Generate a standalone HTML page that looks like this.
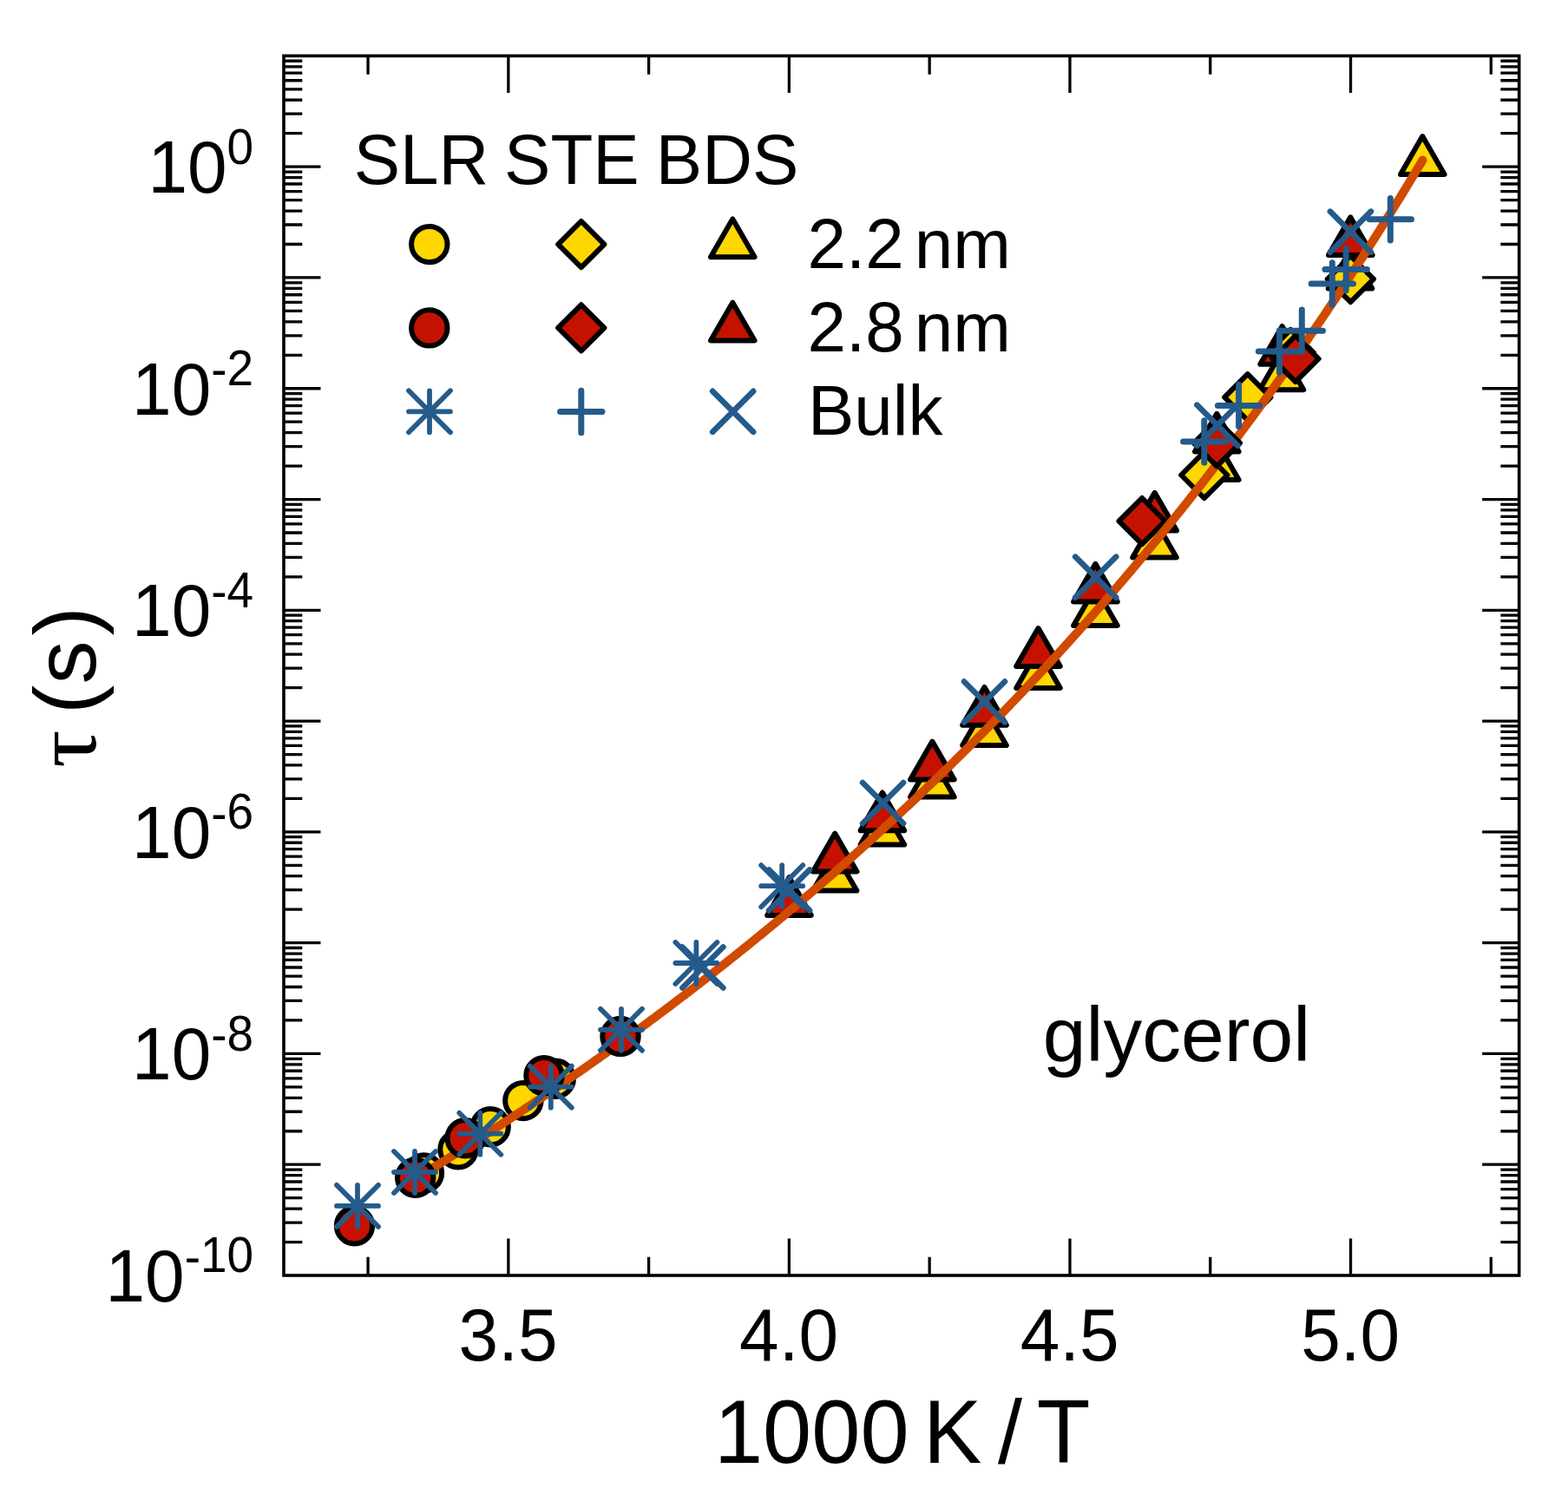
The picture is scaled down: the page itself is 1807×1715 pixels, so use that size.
<!DOCTYPE html>
<html><head><meta charset="utf-8"><title>glycerol relaxation times</title>
<style>
html,body{margin:0;padding:0;background:#fff;overflow:hidden;}
svg{display:block;}
text{font-family:"Liberation Sans",Arial,sans-serif;fill:#000;}
</style></head><body>
<svg width="1807" height="1715" viewBox="0 0 1807 1715">
<rect width="1807" height="1715" fill="#fff"/>
<path d="M327.0 1431.53h21.3M1750.65 1431.53h-21.3M327.0 1409.03h21.3M1750.65 1409.03h-21.3M327.0 1393.07h21.3M1750.65 1393.07h-21.3M327.0 1380.68h21.3M1750.65 1380.68h-21.3M327.0 1370.57h21.3M1750.65 1370.57h-21.3M327.0 1362.01h21.3M1750.65 1362.01h-21.3M327.0 1354.60h21.3M1750.65 1354.60h-21.3M327.0 1348.07h21.3M1750.65 1348.07h-21.3M327.0 1342.22h42.5M1750.65 1342.22h-42.5M327.0 1303.75h21.3M1750.65 1303.75h-21.3M327.0 1281.25h21.3M1750.65 1281.25h-21.3M327.0 1265.29h21.3M1750.65 1265.29h-21.3M327.0 1252.90h21.3M1750.65 1252.90h-21.3M327.0 1242.78h21.3M1750.65 1242.78h-21.3M327.0 1234.23h21.3M1750.65 1234.23h-21.3M327.0 1226.82h21.3M1750.65 1226.82h-21.3M327.0 1220.28h21.3M1750.65 1220.28h-21.3M327.0 1214.44h42.5M1750.65 1214.44h-42.5M327.0 1175.97h21.3M1750.65 1175.97h-21.3M327.0 1153.47h21.3M1750.65 1153.47h-21.3M327.0 1137.50h21.3M1750.65 1137.50h-21.3M327.0 1125.12h21.3M1750.65 1125.12h-21.3M327.0 1115.00h21.3M1750.65 1115.00h-21.3M327.0 1106.45h21.3M1750.65 1106.45h-21.3M327.0 1099.04h21.3M1750.65 1099.04h-21.3M327.0 1092.50h21.3M1750.65 1092.50h-21.3M327.0 1086.65h42.5M1750.65 1086.65h-42.5M327.0 1048.19h21.3M1750.65 1048.19h-21.3M327.0 1025.69h21.3M1750.65 1025.69h-21.3M327.0 1009.72h21.3M1750.65 1009.72h-21.3M327.0 997.34h21.3M1750.65 997.34h-21.3M327.0 987.22h21.3M1750.65 987.22h-21.3M327.0 978.67h21.3M1750.65 978.67h-21.3M327.0 971.26h21.3M1750.65 971.26h-21.3M327.0 964.72h21.3M1750.65 964.72h-21.3M327.0 958.87h42.5M1750.65 958.87h-42.5M327.0 920.41h21.3M1750.65 920.41h-21.3M327.0 897.91h21.3M1750.65 897.91h-21.3M327.0 881.94h21.3M1750.65 881.94h-21.3M327.0 869.56h21.3M1750.65 869.56h-21.3M327.0 859.44h21.3M1750.65 859.44h-21.3M327.0 850.88h21.3M1750.65 850.88h-21.3M327.0 843.47h21.3M1750.65 843.47h-21.3M327.0 836.94h21.3M1750.65 836.94h-21.3M327.0 831.09h42.5M1750.65 831.09h-42.5M327.0 792.62h21.3M1750.65 792.62h-21.3M327.0 770.12h21.3M1750.65 770.12h-21.3M327.0 754.16h21.3M1750.65 754.16h-21.3M327.0 741.78h21.3M1750.65 741.78h-21.3M327.0 731.66h21.3M1750.65 731.66h-21.3M327.0 723.10h21.3M1750.65 723.10h-21.3M327.0 715.69h21.3M1750.65 715.69h-21.3M327.0 709.16h21.3M1750.65 709.16h-21.3M327.0 703.31h42.5M1750.65 703.31h-42.5M327.0 664.84h21.3M1750.65 664.84h-21.3M327.0 642.34h21.3M1750.65 642.34h-21.3M327.0 626.38h21.3M1750.65 626.38h-21.3M327.0 613.99h21.3M1750.65 613.99h-21.3M327.0 603.88h21.3M1750.65 603.88h-21.3M327.0 595.32h21.3M1750.65 595.32h-21.3M327.0 587.91h21.3M1750.65 587.91h-21.3M327.0 581.37h21.3M1750.65 581.37h-21.3M327.0 575.53h42.5M1750.65 575.53h-42.5M327.0 537.06h21.3M1750.65 537.06h-21.3M327.0 514.56h21.3M1750.65 514.56h-21.3M327.0 498.59h21.3M1750.65 498.59h-21.3M327.0 486.21h21.3M1750.65 486.21h-21.3M327.0 476.09h21.3M1750.65 476.09h-21.3M327.0 467.54h21.3M1750.65 467.54h-21.3M327.0 460.13h21.3M1750.65 460.13h-21.3M327.0 453.59h21.3M1750.65 453.59h-21.3M327.0 447.75h42.5M1750.65 447.75h-42.5M327.0 409.28h21.3M1750.65 409.28h-21.3M327.0 386.78h21.3M1750.65 386.78h-21.3M327.0 370.81h21.3M1750.65 370.81h-21.3M327.0 358.43h21.3M1750.65 358.43h-21.3M327.0 348.31h21.3M1750.65 348.31h-21.3M327.0 339.76h21.3M1750.65 339.76h-21.3M327.0 332.35h21.3M1750.65 332.35h-21.3M327.0 325.81h21.3M1750.65 325.81h-21.3M327.0 319.96h42.5M1750.65 319.96h-42.5M327.0 281.50h21.3M1750.65 281.50h-21.3M327.0 259.00h21.3M1750.65 259.00h-21.3M327.0 243.03h21.3M1750.65 243.03h-21.3M327.0 230.65h21.3M1750.65 230.65h-21.3M327.0 220.53h21.3M1750.65 220.53h-21.3M327.0 211.98h21.3M1750.65 211.98h-21.3M327.0 204.57h21.3M1750.65 204.57h-21.3M327.0 198.03h21.3M1750.65 198.03h-21.3M327.0 192.18h42.5M1750.65 192.18h-42.5M327.0 153.72h21.3M1750.65 153.72h-21.3M327.0 131.21h21.3M1750.65 131.21h-21.3M327.0 115.25h21.3M1750.65 115.25h-21.3M327.0 102.87h21.3M1750.65 102.87h-21.3M327.0 92.75h21.3M1750.65 92.75h-21.3M327.0 84.19h21.3M1750.65 84.19h-21.3M327.0 76.78h21.3M1750.65 76.78h-21.3M327.0 70.25h21.3M1750.65 70.25h-21.3M424.07 1470.0v-21.3M424.07 64.4v21.3M585.85 1470.0v-42.5M585.85 64.4v42.5M747.62 1470.0v-21.3M747.62 64.4v21.3M909.40 1470.0v-42.5M909.40 64.4v42.5M1071.18 1470.0v-21.3M1071.18 64.4v21.3M1232.96 1470.0v-42.5M1232.96 64.4v42.5M1394.74 1470.0v-21.3M1394.74 64.4v21.3M1556.52 1470.0v-42.5M1556.52 64.4v42.5M1718.29 1470.0v-21.3M1718.29 64.4v21.3" stroke="#000" stroke-width="3.3" fill="none"/>
<rect x="327.0" y="64.4" width="1423.65" height="1405.6" fill="none" stroke="#000" stroke-width="3.6"/>
<circle cx="488.4" cy="1352.0" r="20.7" fill="#FFD700" stroke="#000" stroke-width="6"/>
<circle cx="528.0" cy="1324.7" r="20.7" fill="#FFD700" stroke="#000" stroke-width="6"/>
<circle cx="565.2" cy="1298.7" r="20.7" fill="#FFD700" stroke="#000" stroke-width="6"/>
<circle cx="602.9" cy="1268.6" r="20.7" fill="#FFD700" stroke="#000" stroke-width="6"/>
<circle cx="640.3" cy="1243.2" r="20.7" fill="#FFD700" stroke="#000" stroke-width="6"/>
<polygon points="962.1,982.8 987.4,1026.6 936.8,1026.6" fill="#FFD700" stroke="#000" stroke-width="6" stroke-linejoin="round"/>
<polygon points="1016.9,929.8 1042.2,973.6 991.6,973.6" fill="#FFD700" stroke="#000" stroke-width="6" stroke-linejoin="round"/>
<polygon points="1074.4,874.6 1099.7,918.4 1049.1,918.4" fill="#FFD700" stroke="#000" stroke-width="6" stroke-linejoin="round"/>
<polygon points="1134.5,815.3 1159.8,859.1 1109.2,859.1" fill="#FFD700" stroke="#000" stroke-width="6" stroke-linejoin="round"/>
<polygon points="1196.5,749.1 1221.8,792.9 1171.2,792.9" fill="#FFD700" stroke="#000" stroke-width="6" stroke-linejoin="round"/>
<polygon points="1262.4,677.2 1287.7,721.0 1237.1,721.0" fill="#FFD700" stroke="#000" stroke-width="6" stroke-linejoin="round"/>
<polygon points="1330.5,598.6 1355.8,642.4 1305.2,642.4" fill="#FFD700" stroke="#000" stroke-width="6" stroke-linejoin="round"/>
<polygon points="1402.3,509.2 1427.6,553.0 1377.0,553.0" fill="#FFD700" stroke="#000" stroke-width="6" stroke-linejoin="round"/>
<polygon points="1477.0,405.4 1502.3,449.2 1451.7,449.2" fill="#FFD700" stroke="#000" stroke-width="6" stroke-linejoin="round"/>
<polygon points="1556.0,288.8 1581.3,332.6 1530.7,332.6" fill="#FFD700" stroke="#000" stroke-width="6" stroke-linejoin="round"/>
<polygon points="1639.3,157.1 1664.6,200.9 1614.0,200.9" fill="#FFD700" stroke="#000" stroke-width="6" stroke-linejoin="round"/>
<polygon points="909.5,1011.2 934.8,1055.0 884.2,1055.0" fill="#C51200" stroke="#000" stroke-width="6" stroke-linejoin="round"/>
<polygon points="962.2,960.6 987.5,1004.4 936.9,1004.4" fill="#C51200" stroke="#000" stroke-width="6" stroke-linejoin="round"/>
<polygon points="1016.9,913.5 1042.2,957.3 991.6,957.3" fill="#C51200" stroke="#000" stroke-width="6" stroke-linejoin="round"/>
<polygon points="1074.4,854.6 1099.7,898.4 1049.1,898.4" fill="#C51200" stroke="#000" stroke-width="6" stroke-linejoin="round"/>
<polygon points="1134.5,792.0 1159.8,835.8 1109.2,835.8" fill="#C51200" stroke="#000" stroke-width="6" stroke-linejoin="round"/>
<polygon points="1196.5,724.1 1221.8,767.9 1171.2,767.9" fill="#C51200" stroke="#000" stroke-width="6" stroke-linejoin="round"/>
<polygon points="1262.4,649.8 1287.7,693.6 1237.1,693.6" fill="#C51200" stroke="#000" stroke-width="6" stroke-linejoin="round"/>
<polygon points="1330.7,567.8 1356.0,611.6 1305.4,611.6" fill="#C51200" stroke="#000" stroke-width="6" stroke-linejoin="round"/>
<polygon points="1402.3,476.8 1427.6,520.6 1377.0,520.6" fill="#C51200" stroke="#000" stroke-width="6" stroke-linejoin="round"/>
<polygon points="1477.6,376.0 1502.9,419.8 1452.3,419.8" fill="#C51200" stroke="#000" stroke-width="6" stroke-linejoin="round"/>
<polygon points="1556.3,250.3 1581.6,294.1 1531.0,294.1" fill="#C51200" stroke="#000" stroke-width="6" stroke-linejoin="round"/>
<polygon points="1387.8,520.9 1414.4,547.5 1387.8,574.1 1361.2,547.5" fill="#FFD700" stroke="#000" stroke-width="6" stroke-linejoin="round"/>
<polygon points="1437.8,431.2 1464.4,457.8 1437.8,484.4 1411.2,457.8" fill="#FFD700" stroke="#000" stroke-width="6" stroke-linejoin="round"/>
<polygon points="1487.4,379.9 1514.0,406.5 1487.4,433.1 1460.8,406.5" fill="#FFD700" stroke="#000" stroke-width="6" stroke-linejoin="round"/>
<polygon points="1556.4,295.0 1583.0,321.6 1556.4,348.2 1529.8,321.6" fill="#FFD700" stroke="#000" stroke-width="6" stroke-linejoin="round"/>
<polygon points="1316.1,574.0 1342.7,600.6 1316.1,627.2 1289.5,600.6" fill="#C51200" stroke="#000" stroke-width="6" stroke-linejoin="round"/>
<path d="M477.99 1358.97 L480.90 1357.19 L483.80 1355.42 L486.70 1353.64 L489.61 1351.85 L492.51 1350.07 L495.42 1348.27 L498.32 1346.48 L501.22 1344.68 L504.13 1342.88 L507.03 1341.08 L509.93 1339.27 L512.84 1337.45 L515.74 1335.64 L518.65 1333.82 L521.55 1331.99 L524.45 1330.17 L527.36 1328.34 L530.26 1326.50 L533.16 1324.66 L536.07 1322.82 L538.97 1320.97 L541.87 1319.13 L544.78 1317.27 L547.68 1315.41 L550.59 1313.55 L553.49 1311.69 L556.39 1309.82 L559.30 1307.95 L562.20 1306.07 L565.10 1304.19 L568.01 1302.31 L570.91 1300.42 L573.82 1298.53 L576.72 1296.63 L579.62 1294.74 L582.53 1292.83 L585.43 1290.93 L588.33 1289.01 L591.24 1287.10 L594.14 1285.18 L597.05 1283.26 L599.95 1281.33 L602.85 1279.40 L605.76 1277.47 L608.66 1275.53 L611.56 1273.58 L614.47 1271.64 L617.37 1269.69 L620.28 1267.73 L623.18 1265.77 L626.08 1263.81 L628.99 1261.84 L631.89 1259.87 L634.79 1257.89 L637.70 1255.91 L640.60 1253.93 L643.50 1251.94 L646.41 1249.95 L649.31 1247.95 L652.22 1245.95 L655.12 1243.95 L658.02 1241.94 L660.93 1239.93 L663.83 1237.91 L666.73 1235.89 L669.64 1233.86 L672.54 1231.83 L675.45 1229.80 L678.35 1227.76 L681.25 1225.71 L684.16 1223.67 L687.06 1221.61 L689.96 1219.56 L692.87 1217.50 L695.77 1215.43 L698.68 1213.36 L701.58 1211.29 L704.48 1209.21 L707.39 1207.12 L710.29 1205.04 L713.19 1202.94 L716.10 1200.85 L719.00 1198.75 L721.91 1196.64 L724.81 1194.53 L727.71 1192.42 L730.62 1190.30 L733.52 1188.17 L736.42 1186.04 L739.33 1183.91 L742.23 1181.77 L745.13 1179.63 L748.04 1177.48 L750.94 1175.33 L753.85 1173.17 L756.75 1171.01 L759.65 1168.85 L762.56 1166.67 L765.46 1164.50 L768.36 1162.32 L771.27 1160.13 L774.17 1157.94 L777.08 1155.75 L779.98 1153.55 L782.88 1151.34 L785.79 1149.13 L788.69 1146.92 L791.59 1144.70 L794.50 1142.48 L797.40 1140.25 L800.31 1138.01 L803.21 1135.77 L806.11 1133.53 L809.02 1131.28 L811.92 1129.02 L814.82 1126.77 L817.73 1124.50 L820.63 1122.23 L823.54 1119.96 L826.44 1117.68 L829.34 1115.39 L832.25 1113.10 L835.15 1110.81 L838.05 1108.51 L840.96 1106.20 L843.86 1103.89 L846.76 1101.57 L849.67 1099.25 L852.57 1096.93 L855.48 1094.59 L858.38 1092.26 L861.28 1089.91 L864.19 1087.57 L867.09 1085.21 L869.99 1082.85 L872.90 1080.49 L875.80 1078.12 L878.71 1075.75 L881.61 1073.37 L884.51 1070.98 L887.42 1068.59 L890.32 1066.19 L893.22 1063.79 L896.13 1061.38 L899.03 1058.97 L901.94 1056.55 L904.84 1054.12 L907.74 1051.69 L910.65 1049.26 L913.55 1046.82 L916.45 1044.37 L919.36 1041.91 L922.26 1039.46 L925.17 1036.99 L928.07 1034.52 L930.97 1032.04 L933.88 1029.56 L936.78 1027.07 L939.68 1024.58 L942.59 1022.08 L945.49 1019.58 L948.40 1017.06 L951.30 1014.55 L954.20 1012.02 L957.11 1009.49 L960.01 1006.96 L962.91 1004.42 L965.82 1001.87 L968.72 999.32 L971.62 996.76 L974.53 994.19 L977.43 991.62 L980.34 989.04 L983.24 986.46 L986.14 983.87 L989.05 981.27 L991.95 978.67 L994.85 976.06 L997.76 973.44 L1000.66 970.82 L1003.57 968.19 L1006.47 965.56 L1009.37 962.92 L1012.28 960.27 L1015.18 957.62 L1018.08 954.96 L1020.99 952.29 L1023.89 949.62 L1026.80 946.94 L1029.70 944.25 L1032.60 941.56 L1035.51 938.86 L1038.41 936.16 L1041.31 933.44 L1044.22 930.72 L1047.12 928.00 L1050.03 925.27 L1052.93 922.53 L1055.83 919.78 L1058.74 917.03 L1061.64 914.27 L1064.54 911.50 L1067.45 908.73 L1070.35 905.95 L1073.25 903.16 L1076.16 900.37 L1079.06 897.56 L1081.97 894.76 L1084.87 891.94 L1087.77 889.12 L1090.68 886.29 L1093.58 883.45 L1096.48 880.61 L1099.39 877.76 L1102.29 874.90 L1105.20 872.04 L1108.10 869.16 L1111.00 866.28 L1113.91 863.40 L1116.81 860.50 L1119.71 857.60 L1122.62 854.69 L1125.52 851.78 L1128.43 848.85 L1131.33 845.92 L1134.23 842.98 L1137.14 840.04 L1140.04 837.08 L1142.94 834.12 L1145.85 831.15 L1148.75 828.18 L1151.66 825.19 L1154.56 822.20 L1157.46 819.20 L1160.37 816.19 L1163.27 813.18 L1166.17 810.15 L1169.08 807.12 L1171.98 804.08 L1174.88 801.04 L1177.79 797.98 L1180.69 794.92 L1183.60 791.85 L1186.50 788.77 L1189.40 785.68 L1192.31 782.59 L1195.21 779.49 L1198.11 776.38 L1201.02 773.26 L1203.92 770.13 L1206.83 766.99 L1209.73 763.85 L1212.63 760.70 L1215.54 757.54 L1218.44 754.37 L1221.34 751.19 L1224.25 748.00 L1227.15 744.81 L1230.06 741.61 L1232.96 738.39 L1235.86 735.17 L1238.77 731.95 L1241.67 728.71 L1244.57 725.46 L1247.48 722.21 L1250.38 718.94 L1253.29 715.67 L1256.19 712.39 L1259.09 709.10 L1262.00 705.80 L1264.90 702.49 L1267.80 699.18 L1270.71 695.85 L1273.61 692.51 L1276.51 689.17 L1279.42 685.82 L1282.32 682.45 L1285.23 679.08 L1288.13 675.70 L1291.03 672.31 L1293.94 668.91 L1296.84 665.50 L1299.74 662.09 L1302.65 658.66 L1305.55 655.22 L1308.46 651.77 L1311.36 648.32 L1314.26 644.85 L1317.17 641.38 L1320.07 637.89 L1322.97 634.40 L1325.88 630.89 L1328.78 627.38 L1331.69 623.85 L1334.59 620.32 L1337.49 616.78 L1340.40 613.22 L1343.30 609.66 L1346.20 606.08 L1349.11 602.50 L1352.01 598.90 L1354.92 595.30 L1357.82 591.69 L1360.72 588.06 L1363.63 584.43 L1366.53 580.78 L1369.43 577.12 L1372.34 573.46 L1375.24 569.78 L1378.14 566.09 L1381.05 562.40 L1383.95 558.69 L1386.86 554.97 L1389.76 551.24 L1392.66 547.50 L1395.57 543.75 L1398.47 539.98 L1401.37 536.21 L1404.28 532.43 L1407.18 528.63 L1410.09 524.82 L1412.99 521.01 L1415.89 517.18 L1418.80 513.34 L1421.70 509.49 L1424.60 505.63 L1427.51 501.75 L1430.41 497.87 L1433.32 493.97 L1436.22 490.06 L1439.12 486.14 L1442.03 482.21 L1444.93 478.27 L1447.83 474.32 L1450.74 470.35 L1453.64 466.37 L1456.55 462.38 L1459.45 458.38 L1462.35 454.37 L1465.26 450.34 L1468.16 446.30 L1471.06 442.26 L1473.97 438.19 L1476.87 434.12 L1479.77 430.03 L1482.68 425.93 L1485.58 421.82 L1488.49 417.70 L1491.39 413.56 L1494.29 409.41 L1497.20 405.25 L1500.10 401.08 L1503.00 396.89 L1505.91 392.69 L1508.81 388.48 L1511.72 384.26 L1514.62 380.02 L1517.52 375.77 L1520.43 371.50 L1523.33 367.23 L1526.23 362.93 L1529.14 358.63 L1532.04 354.31 L1534.95 349.98 L1537.85 345.64 L1540.75 341.28 L1543.66 336.91 L1546.56 332.53 L1549.46 328.13 L1552.37 323.71 L1555.27 319.29 L1558.18 314.85 L1561.08 310.39 L1563.98 305.93 L1566.89 301.44 L1569.79 296.95 L1572.69 292.44 L1575.60 287.91 L1578.50 283.37 L1581.40 278.82 L1584.31 274.25 L1587.21 269.67 L1590.12 265.07 L1593.02 260.46 L1595.92 255.83 L1598.83 251.19 L1601.73 246.53 L1604.63 241.86 L1607.54 237.17 L1610.44 232.47 L1613.35 227.76 L1616.25 223.02 L1619.15 218.27 L1622.06 213.51 L1624.96 208.73 L1627.86 203.94 L1630.77 199.13 L1633.67 194.30 L1636.58 189.46 L1639.48 184.60" fill="none" stroke="#D04A00" stroke-width="10" stroke-linecap="round" stroke-linejoin="round"/>
<circle cx="408.5" cy="1412.8" r="20.7" fill="#C51200" stroke="#000" stroke-width="6"/>
<circle cx="478.7" cy="1357.2" r="20.7" fill="#C51200" stroke="#000" stroke-width="6"/>
<circle cx="536.2" cy="1311.8" r="20.7" fill="#C51200" stroke="#000" stroke-width="6"/>
<circle cx="627.0" cy="1239.7" r="20.7" fill="#C51200" stroke="#000" stroke-width="6"/>
<circle cx="715.0" cy="1194.4" r="20.7" fill="#C51200" stroke="#000" stroke-width="6"/>
<polygon points="1402.4,484.1 1429.0,510.7 1402.4,537.3 1375.8,510.7" fill="#C51200" stroke="#000" stroke-width="6" stroke-linejoin="round"/>
<polygon points="1493.0,386.9 1519.6,413.5 1493.0,440.1 1466.4,413.5" fill="#C51200" stroke="#000" stroke-width="6" stroke-linejoin="round"/>
<path d="M388.0 1389.9H436.0M412.0 1365.9V1413.9M388.0 1365.9L436.0 1413.9M388.0 1413.9L436.0 1365.9" fill="none" stroke="#245B8B" stroke-width="5.8" stroke-linecap="round"/>
<path d="M454.0 1351.0H502.0M478.0 1327.0V1375.0M454.0 1327.0L502.0 1375.0M454.0 1375.0L502.0 1327.0" fill="none" stroke="#245B8B" stroke-width="5.8" stroke-linecap="round"/>
<path d="M529.3 1306.7H577.3M553.3 1282.7V1330.7M529.3 1282.7L577.3 1330.7M529.3 1330.7L577.3 1282.7" fill="none" stroke="#245B8B" stroke-width="5.8" stroke-linecap="round"/>
<path d="M610.8 1252.7H658.8M634.8 1228.7V1276.7M610.8 1228.7L658.8 1276.7M610.8 1276.7L658.8 1228.7" fill="none" stroke="#245B8B" stroke-width="5.8" stroke-linecap="round"/>
<path d="M692.0 1186.8H740.0M716.0 1162.8V1210.8M692.0 1162.8L740.0 1210.8M692.0 1210.8L740.0 1162.8" fill="none" stroke="#245B8B" stroke-width="5.8" stroke-linecap="round"/>
<path d="M778.4 1110.0H826.4M802.4 1086.0V1134.0M778.4 1086.0L826.4 1134.0M778.4 1134.0L826.4 1086.0" fill="none" stroke="#245B8B" stroke-width="5.8" stroke-linecap="round"/>
<path d="M877.2 1021.2H925.2M901.2 997.2V1045.2M877.2 997.2L925.2 1045.2M877.2 1045.2L925.2 997.2" fill="none" stroke="#245B8B" stroke-width="5.8" stroke-linecap="round"/>
<path d="M1363.6 509.0H1412.0M1387.8 484.8V533.2" fill="none" stroke="#245B8B" stroke-width="7" stroke-linecap="round"/>
<path d="M1403.4 467.4H1451.8M1427.6 443.2V491.6" fill="none" stroke="#245B8B" stroke-width="7" stroke-linecap="round"/>
<path d="M1450.3 405.0H1498.7M1474.5 380.8V429.2" fill="none" stroke="#245B8B" stroke-width="7" stroke-linecap="round"/>
<path d="M1476.1 381.3H1524.5M1500.3 357.1V405.5" fill="none" stroke="#245B8B" stroke-width="7" stroke-linecap="round"/>
<path d="M1511.1 327.0H1559.5M1535.3 302.8V351.2" fill="none" stroke="#245B8B" stroke-width="7" stroke-linecap="round"/>
<path d="M1527.0 310.5H1575.4M1551.2 286.3V334.7" fill="none" stroke="#245B8B" stroke-width="7" stroke-linecap="round"/>
<path d="M1578.1 252.8H1626.5M1602.3 228.6V277.0" fill="none" stroke="#245B8B" stroke-width="7" stroke-linecap="round"/>
<path d="M886.1 1002.4L933.1 1049.4M886.1 1049.4L933.1 1002.4" fill="none" stroke="#245B8B" stroke-width="6.6" stroke-linecap="round"/>
<path d="M994.1 902.0L1041.1 949.0M994.1 949.0L1041.1 902.0" fill="none" stroke="#245B8B" stroke-width="6.6" stroke-linecap="round"/>
<path d="M1111.0 785.5L1158.0 832.5M1111.0 832.5L1158.0 785.5" fill="none" stroke="#245B8B" stroke-width="6.6" stroke-linecap="round"/>
<path d="M1239.2 641.7L1286.2 688.7M1239.2 688.7L1286.2 641.7" fill="none" stroke="#245B8B" stroke-width="6.6" stroke-linecap="round"/>
<path d="M1532.9 243.7L1579.9 290.7M1532.9 290.7L1579.9 243.7" fill="none" stroke="#245B8B" stroke-width="6.6" stroke-linecap="round"/>
<path d="M786.4 1091.5L833.4 1138.5M786.4 1138.5L833.4 1091.5" fill="none" stroke="#245B8B" stroke-width="6.6" stroke-linecap="round"/>
<path d="M1379.4 466.7L1426.4 513.7M1379.4 513.7L1426.4 466.7" fill="none" stroke="#245B8B" stroke-width="6.6" stroke-linecap="round"/>
<circle cx="494.8" cy="281.6" r="20.7" fill="#FFD700" stroke="#000" stroke-width="6"/>
<polygon points="669.8,255.0 696.4,281.6 669.8,308.2 643.2,281.6" fill="#FFD700" stroke="#000" stroke-width="6" stroke-linejoin="round"/>
<polygon points="844.3,252.4 869.6,296.2 819.0,296.2" fill="#FFD700" stroke="#000" stroke-width="6" stroke-linejoin="round"/>
<circle cx="494.8" cy="377.9" r="20.7" fill="#C51200" stroke="#000" stroke-width="6"/>
<polygon points="669.8,351.3 696.4,377.9 669.8,404.5 643.2,377.9" fill="#C51200" stroke="#000" stroke-width="6" stroke-linejoin="round"/>
<polygon points="844.3,348.7 869.6,392.5 819.0,392.5" fill="#C51200" stroke="#000" stroke-width="6" stroke-linejoin="round"/>
<path d="M471.0 474.3H519.0M495.0 450.3V498.3M471.0 450.3L519.0 498.3M471.0 498.3L519.0 450.3" fill="none" stroke="#245B8B" stroke-width="5.8" stroke-linecap="round"/>
<path d="M645.6 474.5H694.0M669.8 450.3V498.7" fill="none" stroke="#245B8B" stroke-width="7" stroke-linecap="round"/>
<path d="M821.2 450.8L868.2 497.8M821.2 497.8L868.2 450.8" fill="none" stroke="#245B8B" stroke-width="6.6" stroke-linecap="round"/>
<text transform="translate(585.55,1568.00) scale(1.0,1.035)" font-size="82" text-anchor="middle">3.5</text>
<text transform="translate(909.10,1568.00) scale(1.0,1.035)" font-size="82" text-anchor="middle">4.0</text>
<text transform="translate(1232.66,1568.00) scale(1.0,1.035)" font-size="82" text-anchor="middle">4.5</text>
<text transform="translate(1556.22,1568.00) scale(1.0,1.035)" font-size="82" text-anchor="middle">5.0</text>
<text transform="translate(292.20,222.18) scale(1.0,1.035)" font-size="82" text-anchor="end">10<tspan font-size="55" dy="-32.4">0</tspan></text>
<text transform="translate(292.20,477.75) scale(1.0,1.035)" font-size="82" text-anchor="end">10<tspan font-size="55" dy="-31.2">-</tspan><tspan font-size="55" dy="-1.2">2</tspan></text>
<text transform="translate(292.20,733.31) scale(1.0,1.035)" font-size="82" text-anchor="end">10<tspan font-size="55" dy="-31.2">-</tspan><tspan font-size="55" dy="-1.2">4</tspan></text>
<text transform="translate(292.20,988.87) scale(1.0,1.035)" font-size="82" text-anchor="end">10<tspan font-size="55" dy="-31.2">-</tspan><tspan font-size="55" dy="-1.2">6</tspan></text>
<text transform="translate(292.20,1244.44) scale(1.0,1.035)" font-size="82" text-anchor="end">10<tspan font-size="55" dy="-31.2">-</tspan><tspan font-size="55" dy="-1.2">8</tspan></text>
<text transform="translate(292.20,1500.00) scale(1.0,1.035)" font-size="82" text-anchor="end">10<tspan font-size="55" dy="-31.2">-</tspan><tspan font-size="55" dy="-1.2">10</tspan></text>
<text transform="translate(1047.60,1685.50) scale(1.0,1.02)" font-size="101" text-anchor="end">1000</text>
<text transform="translate(1063.91,1685.50) scale(1.0,1.02)" font-size="101">K</text>
<text transform="translate(1149.90,1685.50) scale(1.0,1.02)" font-size="101">/</text>
<text transform="translate(1194.73,1685.50) scale(1.0,1.02)" font-size="101">T</text>
<text transform="translate(110.3,885.1) rotate(-90) scale(1.07,1)" font-size="101.5" style="font-family:&quot;Liberation Serif&quot;,serif">&#964;</text>
<text transform="translate(109.6,0) rotate(-90)" font-size="100"><tspan x="-823.1">(</tspan><tspan x="-788.5">s</tspan><tspan x="-732.4">)</tspan></text>
<text transform="translate(407.75,212.10) scale(1.0,1.03)" font-size="80">SLR</text>
<text transform="translate(581.05,212.10) scale(1.0,1.03)" font-size="80">STE</text>
<text transform="translate(755.85,212.10) scale(1.0,1.03)" font-size="80">BDS</text>
<text transform="translate(930.50,308.60) scale(1.0,1.025)" font-size="80">2.2</text>
<text transform="translate(1053.80,308.60)" font-size="80">nm</text>
<text transform="translate(930.50,405.00) scale(1.0,1.025)" font-size="80">2.8</text>
<text transform="translate(1053.80,405.00)" font-size="80">nm</text>
<text transform="translate(931.00,500.80) scale(1.0,1.02)" font-size="80">Bulk</text>
<text transform="translate(1201.80,1223.00) scale(1.0,0.99)" font-size="89.5">glycerol</text>
</svg>
</body></html>
